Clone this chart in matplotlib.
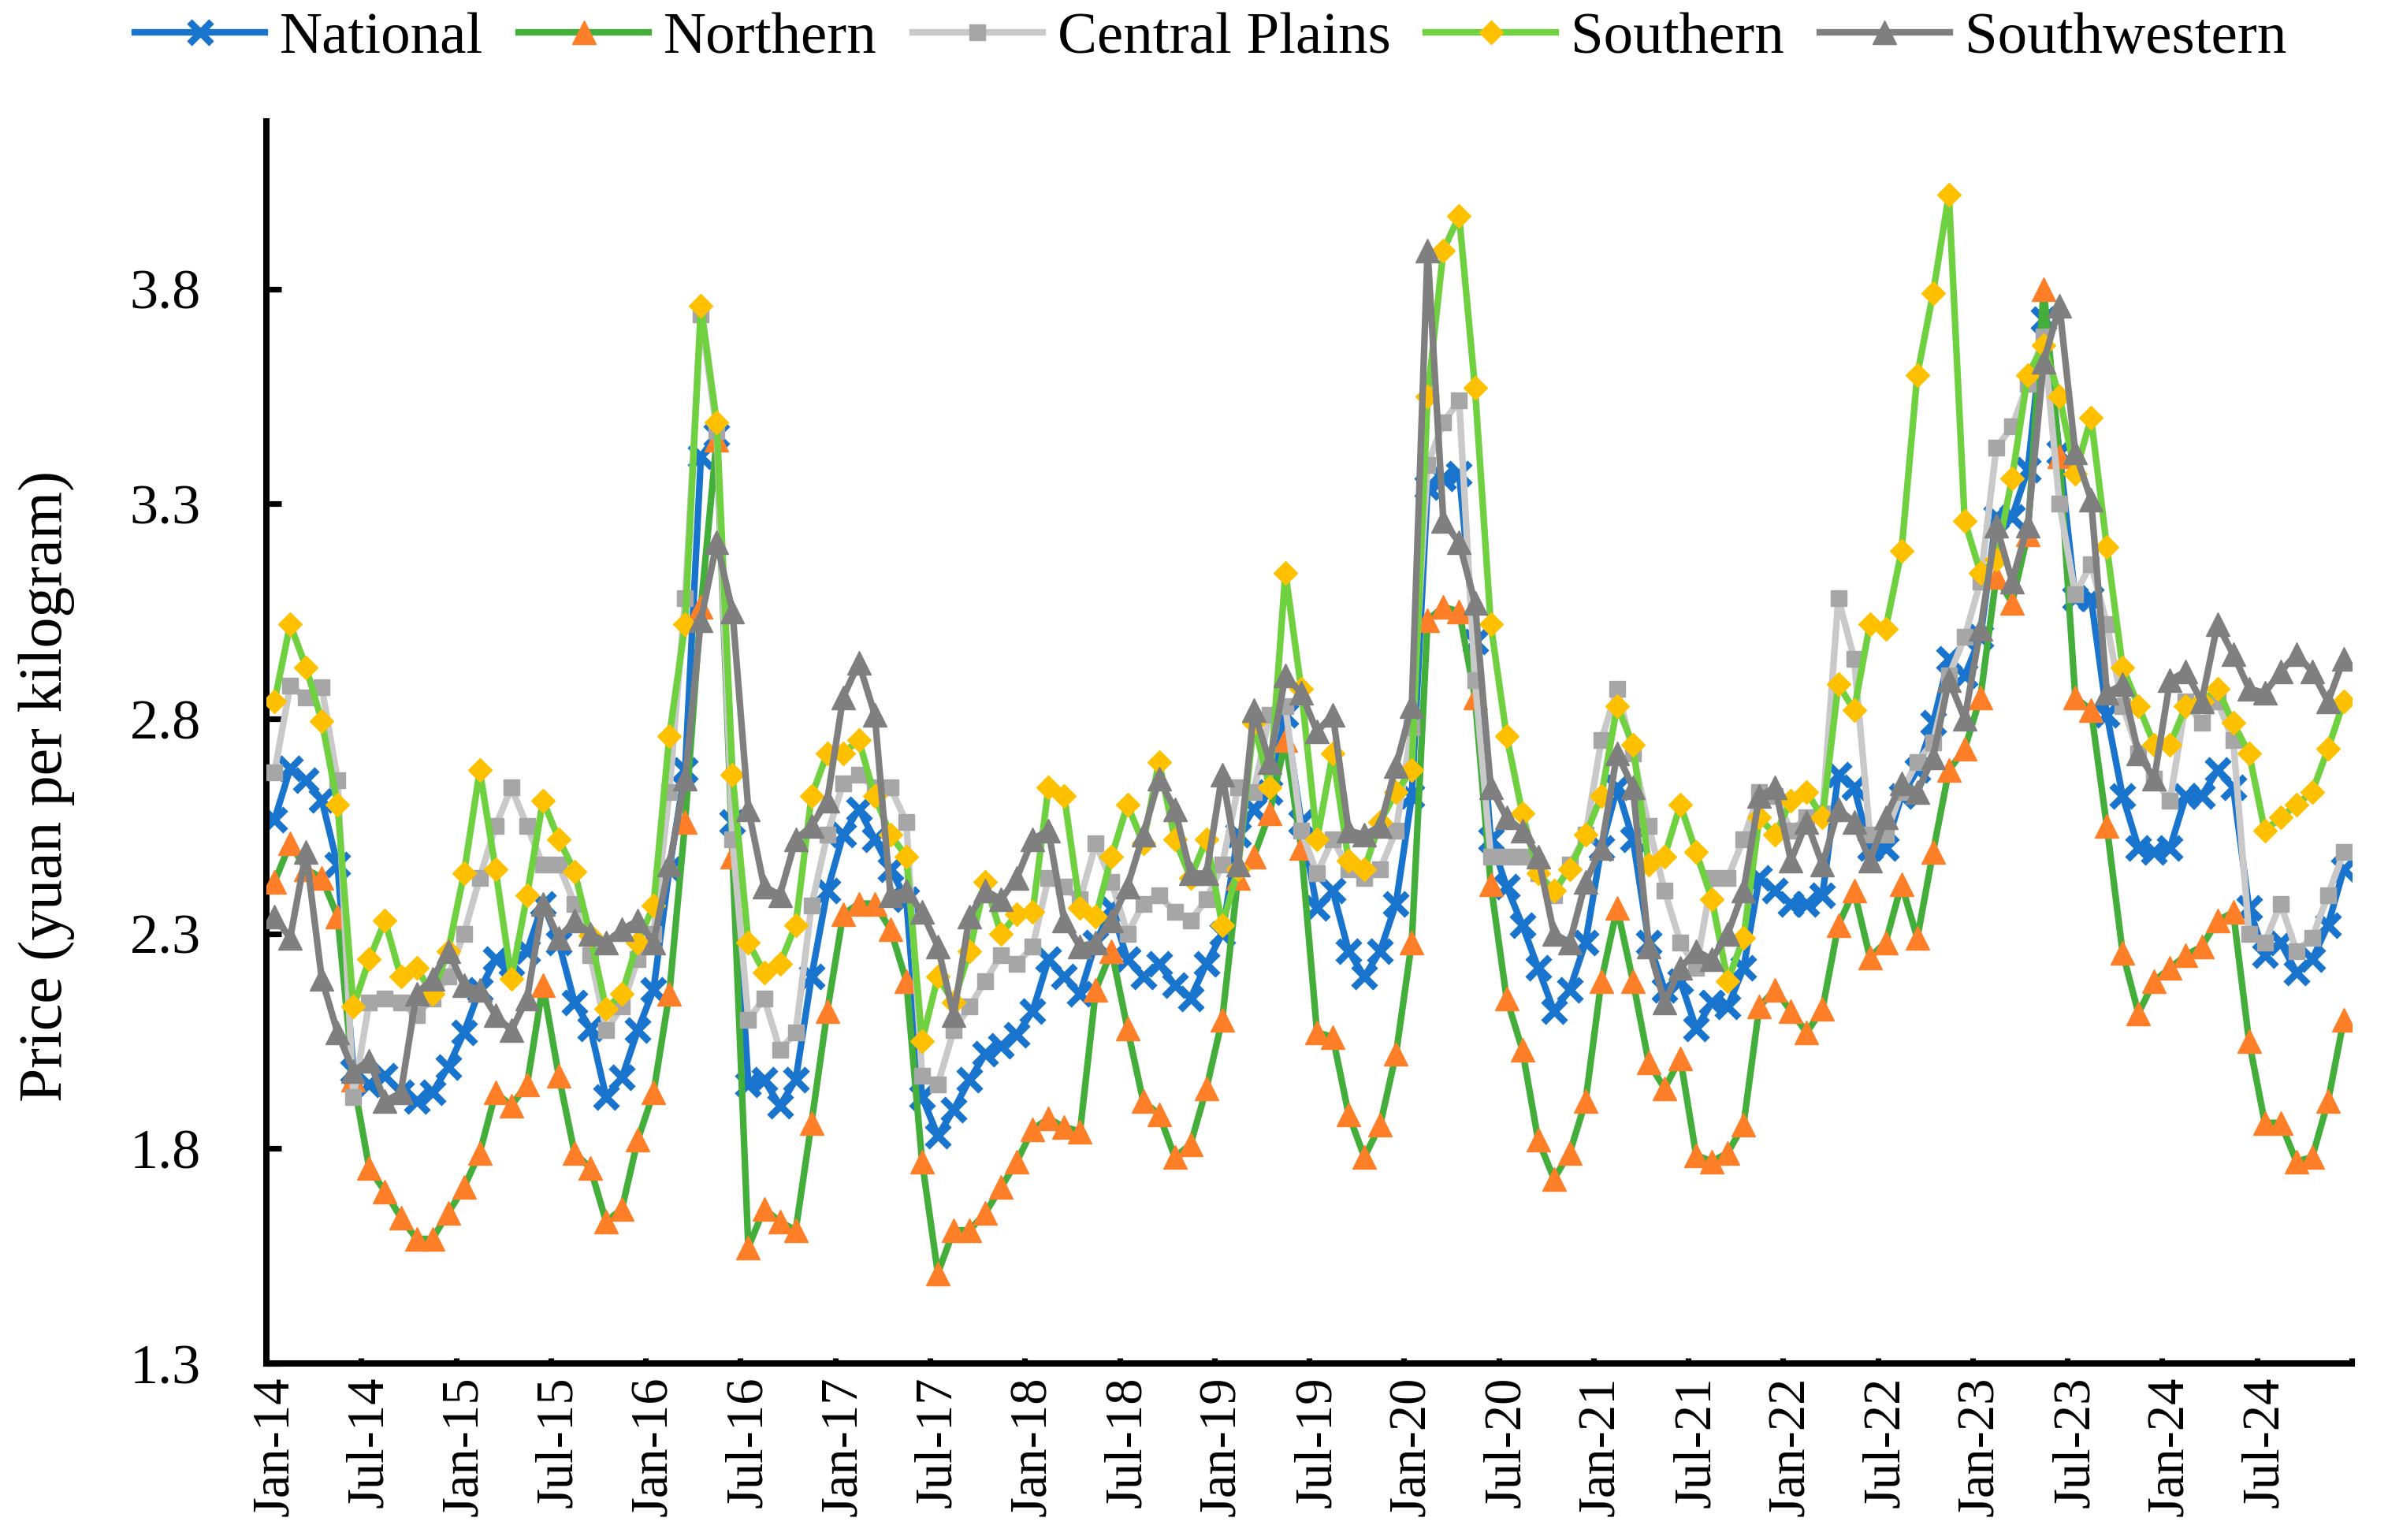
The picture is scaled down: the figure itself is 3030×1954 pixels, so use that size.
import numpy as np
import matplotlib
matplotlib.use("Agg")
import matplotlib.pyplot as plt

plt.rcParams["font.family"] = ["Liberation Serif", "DejaVu Serif"]

# Monthly prices, Jan-2014 .. Dec-2024 (yuan per kilogram)

national = [
    2.565, 2.684, 2.657, 2.611, 2.46, 1.98, 1.95, 1.97, 1.93, 1.91, 1.93, 1.99,
    2.07, 2.17, 2.24, 2.23, 2.26, 2.37, 2.28, 2.14, 2.08, 1.92, 1.965, 2.075,
    2.17, 2.45, 2.68, 3.41, 3.46, 2.56, 1.95, 1.96, 1.90, 1.96, 2.20, 2.40,
    2.53, 2.59, 2.52, 2.45, 2.38, 1.92, 1.83, 1.89, 1.96, 2.02, 2.04, 2.065,
    2.12, 2.24, 2.20, 2.16, 2.28, 2.36, 2.24, 2.20, 2.23, 2.18, 2.15, 2.23,
    2.30, 2.53, 2.59, 2.63, 2.81, 2.56, 2.36, 2.40, 2.26, 2.20, 2.26, 2.37,
    2.62, 3.34, 3.36, 3.37, 2.98, 2.52, 2.41, 2.32, 2.22, 2.12, 2.17, 2.28,
    2.50, 2.64, 2.52, 2.28, 2.17, 2.19, 2.08, 2.14, 2.13, 2.22, 2.43, 2.40,
    2.37, 2.37, 2.39, 2.67, 2.64, 2.50, 2.50, 2.62, 2.68, 2.79, 2.94, 2.90,
    2.99, 3.27, 3.27, 3.38, 3.73, 3.42, 3.08, 3.08, 2.81, 2.62, 2.50, 2.49,
    2.50, 2.62, 2.62, 2.68, 2.64, 2.36, 2.25, 2.28, 2.21, 2.24, 2.32, 2.45,
]

northern = [
    2.42, 2.51, 2.45, 2.43, 2.34, 1.96, 1.755, 1.70, 1.64, 1.59, 1.59, 1.65,
    1.71, 1.79, 1.93, 1.90, 1.95, 2.18, 1.97, 1.79, 1.755, 1.63, 1.66, 1.82,
    1.93, 2.16, 2.56, 3.06, 3.45, 2.48, 1.57, 1.66, 1.63, 1.61, 1.86, 2.12,
    2.345, 2.37, 2.37, 2.31, 2.19, 1.77, 1.51, 1.61, 1.61, 1.65, 1.71, 1.77,
    1.845, 1.87, 1.85, 1.84, 2.17, 2.26, 2.08, 1.91, 1.88, 1.78, 1.81, 1.94,
    2.10, 2.43, 2.48, 2.58, 2.75, 2.50, 2.07, 2.06, 1.88, 1.78, 1.855, 2.02,
    2.28, 3.03, 3.06, 3.05, 2.85, 2.415, 2.15, 2.03, 1.82, 1.73, 1.79, 1.91,
    2.19, 2.36, 2.19, 2.00, 1.94, 2.01, 1.785, 1.77, 1.79, 1.855, 2.13, 2.17,
    2.12, 2.07, 2.125, 2.32, 2.40, 2.245, 2.28, 2.415, 2.29, 2.49, 2.68, 2.73,
    2.85, 3.13, 3.07, 3.23, 3.80, 3.41, 2.85, 2.82, 2.55, 2.255, 2.115, 2.19,
    2.22, 2.25, 2.27, 2.33, 2.35, 2.05, 1.86, 1.86, 1.77, 1.78, 1.91, 2.10,
]

central_plains = [
    2.675, 2.877, 2.85, 2.874, 2.657, 1.92, 2.14, 2.15, 2.14, 2.11, 2.15, 2.20,
    2.30, 2.43, 2.55, 2.64, 2.55, 2.46, 2.46, 2.37, 2.25, 2.075, 2.13, 2.24,
    2.30, 2.63, 3.08, 3.74, 3.47, 2.52, 2.10, 2.15, 2.03, 2.07, 2.365, 2.53,
    2.65, 2.67, 2.64, 2.64, 2.56, 1.97, 1.95, 2.075, 2.13, 2.19, 2.25, 2.23,
    2.27, 2.43, 2.41, 2.38, 2.51, 2.42, 2.30, 2.37, 2.39, 2.35, 2.33, 2.38,
    2.46, 2.64, 2.63, 2.81, 2.83, 2.54, 2.44, 2.52, 2.45, 2.43, 2.45, 2.54,
    2.78, 3.39, 3.49, 3.54, 2.89, 2.48, 2.48, 2.48, 2.44, 2.39, 2.46, 2.53,
    2.75, 2.87, 2.72, 2.55, 2.40, 2.28, 2.22, 2.43, 2.43, 2.52, 2.63, 2.62,
    2.54, 2.57, 2.58, 3.08, 2.94, 2.53, 2.53, 2.63, 2.70, 2.745, 2.90, 2.99,
    3.12, 3.43, 3.48, 3.58, 3.69, 3.30, 3.09, 3.16, 3.02, 2.83, 2.72, 2.66,
    2.61, 2.84, 2.79, 2.84, 2.75, 2.30, 2.28, 2.37, 2.26, 2.29, 2.39, 2.49,
]

southern = [
    2.84, 3.02, 2.92, 2.795, 2.60, 2.13, 2.24, 2.33, 2.20, 2.22, 2.16, 2.26,
    2.44, 2.68, 2.45, 2.195, 2.39, 2.61, 2.52, 2.445, 2.295, 2.125, 2.16, 2.28,
    2.365, 2.76, 3.02, 3.76, 3.49, 2.67, 2.28, 2.21, 2.23, 2.32, 2.62, 2.72,
    2.72, 2.75, 2.62, 2.53, 2.48, 2.05, 2.20, 2.14, 2.26, 2.42, 2.30, 2.345,
    2.35, 2.64, 2.62, 2.36, 2.34, 2.48, 2.60, 2.51, 2.70, 2.52, 2.43, 2.52,
    2.32, 2.45, 2.79, 2.64, 3.14, 2.87, 2.52, 2.72, 2.47, 2.45, 2.56, 2.63,
    2.68, 3.55, 3.89, 3.97, 3.57, 3.02, 2.76, 2.58, 2.44, 2.40, 2.45, 2.53,
    2.62, 2.83, 2.74, 2.46, 2.48, 2.60, 2.49, 2.38, 2.19, 2.29, 2.57, 2.53,
    2.61, 2.63, 2.57, 2.88, 2.82, 3.02, 3.01, 3.19, 3.60, 3.79, 4.02, 3.26,
    3.14, 3.17, 3.36, 3.60, 3.67, 3.55, 3.37, 3.50, 3.20, 2.92, 2.83, 2.74,
    2.74, 2.83, 2.84, 2.87, 2.79, 2.72, 2.54, 2.57, 2.60, 2.63, 2.73, 2.84,
]

southwestern = [
    2.34, 2.29, 2.49, 2.195, 2.07, 1.98, 2.005, 1.91, 1.93, 2.16, 2.195, 2.26,
    2.18, 2.17, 2.11, 2.075, 2.15, 2.37, 2.29, 2.33, 2.30, 2.28, 2.31, 2.33,
    2.28, 2.46, 2.66, 3.03, 3.21, 3.05, 2.59, 2.41, 2.39, 2.52, 2.55, 2.61,
    2.85, 2.93, 2.81, 2.39, 2.40, 2.35, 2.27, 2.11, 2.34, 2.40, 2.38, 2.43,
    2.52, 2.54, 2.33, 2.27, 2.28, 2.33, 2.41, 2.53, 2.66, 2.59, 2.44, 2.44,
    2.67, 2.46, 2.82, 2.70, 2.90, 2.86, 2.77, 2.81, 2.54, 2.53, 2.55, 2.69,
    2.83, 3.89, 3.26, 3.21, 3.07, 2.64, 2.57, 2.54, 2.48, 2.30, 2.28, 2.42,
    2.50, 2.72, 2.64, 2.27, 2.14, 2.22, 2.26, 2.24, 2.30, 2.40, 2.62, 2.64,
    2.47, 2.56, 2.46, 2.59, 2.56, 2.47, 2.57, 2.65, 2.63, 2.71, 2.89, 2.80,
    3.01, 3.25, 3.12, 3.25, 3.63, 3.76, 3.42, 3.31, 2.86, 2.88, 2.72, 2.66,
    2.89, 2.91, 2.84, 3.02, 2.95, 2.87, 2.86, 2.91, 2.95, 2.91, 2.84, 2.94,
]

years = range(14, 25)
tick_labels = [f"{m}-{y}" for y in years for m in ("Jan", "Jul")]
y_ticks = [1.3, 1.8, 2.3, 2.8, 3.3, 3.8]

months = np.arange(len(national))

# Plot

fig = plt.figure(figsize=(15.15, 9.77), dpi=200)
ax = fig.add_axes([0.1116, 0.1146, 0.8732, 0.8066])

series = [
    ("National", national, "#1874CD", "#1874CD", "x", 10, 3.2),
    ("Northern", northern, "#44AE3A", "#FE7F28", "^", 10.5, 0.5),
    ("Central Plains", central_plains, "#C9C9C9", "#A6A6A6", "s", 7.5, 0.5),
    ("Southern", southern, "#6FD040", "#FFC000", "D", 7.6, 0.5),
    ("Southwestern", southwestern, "#7F7F7F", "#7F7F7F", "^", 10.5, 0.5),
]

for i, (label, values, lc, mc, marker, ms, mew) in enumerate(series):
    ax.plot(
        months,
        values,
        color=lc,
        linewidth=3.0,
        marker=marker,
        markersize=ms,
        markerfacecolor=mc,
        markeredgecolor=mc,
        markeredgewidth=mew,
        label=label,
        zorder=2 + i,
    )

ax.set_xlim(-0.5, len(months) - 0.5)
ax.set_ylim(1.3, 4.19)

ax.set_yticks(y_ticks)
ax.set_yticklabels([f"{v:.1f}" for v in y_ticks])

ax.set_xticks(np.arange(-0.5, len(months), 6))
ax.set_xticklabels([])
ax.set_xticks(np.arange(0, len(months), 6), minor=True)
ax.set_xticklabels(tick_labels, minor=True, rotation=90, fontsize=24)

ax.tick_params(axis="y", direction="in", length=7, width=2.6, labelsize=26, pad=30)
ax.tick_params(axis="x", which="major", direction="in", length=2.6, width=2.6)
ax.tick_params(axis="x", which="minor", length=0, pad=6)

for side in ("top", "right"):
    ax.spines[side].set_visible(False)
for side in ("left", "bottom"):
    ax.spines[side].set_linewidth(2.9)

ax.set_ylabel("Price (yuan per kilogram)", fontsize=28)
ax.yaxis.set_label_coords(-0.092, 0.465)

fig.legend(
    loc="center",
    bbox_to_anchor=(0.507, 0.975),
    ncol=5,
    frameon=False,
    fontsize=27,
    handlelength=2.2,
    handletextpad=0.25,
    columnspacing=0.6,
)

plt.savefig("out.png", dpi=200)
